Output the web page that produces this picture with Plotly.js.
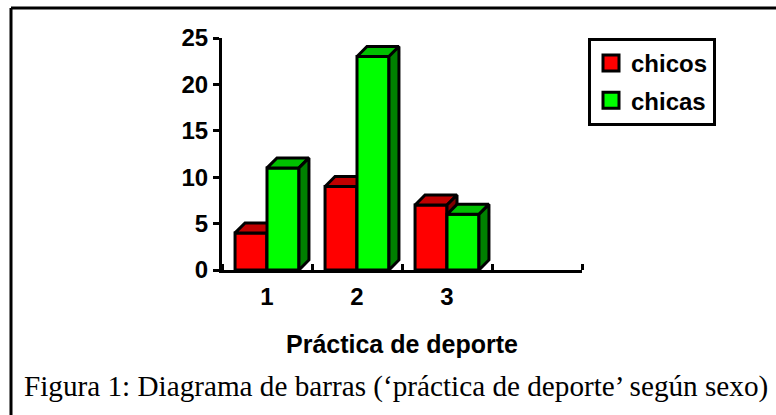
<!DOCTYPE html>
<html>
<head>
<meta charset="utf-8">
<script src="https://cdn.plot.ly/plotly-3.0.1.min.js"></script>
<style>
  html, body { margin: 0; padding: 0; background: #fff; }
  #chart { width: 776px; height: 415px; }
</style>
</head>
<body>
<div id="chart"></div>
<script>
// Sports practice by sex
const categories = [1, 2, 3];
const categoryLabels = ['1', '2', '3'];
const chicos = [4, 9, 7];
const chicas = [11, 23, 6];
const yTickValues = [0, 5, 10, 15, 20, 25];

// Plot area in pixels
const W = 776, H = 415;
const L = 222, R = 582, T = 38, B = 270;
const xRange = [0.5, 4.5];
const yRange = [0, 25];

// 3D extrusion of each bar (in axis units)
const pxPerX = (R - L) / (xRange[1] - xRange[0]);
const pxPerY = (B - T) / (yRange[1] - yRange[0]);
const DX = 10 / pxPerX;
const DY = 10 / pxPerY;
const BAR_W = 0.355;

const px = x => (x - L) / (R - L);
const py = y => (B - y) / (B - T);

const font = { family: 'Liberation Sans, Arial, sans-serif', color: '#000', weight: 'bold' };
const sized = s => Object.assign({}, font, { size: s });

// Build top and side faces for one series
function faces(values, offset) {
  const top = { x: [], y: [] };
  const side = { x: [], y: [] };
  values.forEach((h, i) => {
    const x0 = categories[i] + offset;
    const x1 = x0 + BAR_W;
    top.x.push(x0, x0 + DX, x1 + DX, x1, x0, null);
    top.y.push(h, h + DY, h + DY, h, h, null);
    side.x.push(x1, x1 + DX, x1 + DX, x1, x1, null);
    side.y.push(0, DY, h + DY, h, 0, null);
  });
  return { top, side };
}

function series(values, offset, front, topColor, sideColor, xa, ya) {
  const f = faces(values, offset);
  const outline = { color: '#000', width: 3 };
  return [
    {
      type: 'bar', x: categories, y: values, width: BAR_W, offset: offset,
      marker: { color: front, line: outline },
      xaxis: xa, yaxis: ya, showlegend: false, hoverinfo: 'y'
    },
    {
      type: 'scatter', mode: 'lines', x: f.top.x, y: f.top.y, fill: 'toself',
      fillcolor: topColor, line: outline, xaxis: xa, yaxis: ya,
      showlegend: false, hoverinfo: 'skip'
    },
    {
      type: 'scatter', mode: 'lines', x: f.side.x, y: f.side.y, fill: 'toself',
      fillcolor: sideColor, line: outline, xaxis: xa, yaxis: ya,
      showlegend: false, hoverinfo: 'skip'
    }
  ];
}

function legendEntry(name, color, group) {
  return {
    type: 'scatter', mode: 'markers', x: [null], y: [null], name: name,
    legendgroup: group,
    marker: { symbol: 'square', size: 16, color: color, line: { color: '#000', width: 3 } },
    xaxis: 'x', yaxis: 'y', hoverinfo: 'skip'
  };
}

const data = [
  ...series(chicos, -BAR_W, '#ff0000', '#c00000', '#800000', 'x', 'y'),
  ...series(chicas, 0, '#00ff00', '#00c000', '#008000', 'x2', 'y2'),
  legendEntry('chicos', '#ff0000', 'a'),
  legendEntry('chicas', '#00ff00', 'b')
];

const layout = {
  width: W, height: H,
  margin: { l: L, r: W - R, t: T, b: H - B, pad: 0 },
  paper_bgcolor: '#fff', plot_bgcolor: 'rgba(0,0,0,0)',
  font: font,
  showlegend: true,
  xaxis: {
    range: xRange, tickmode: 'array', tickvals: categories, ticktext: categoryLabels,
    ticks: '', ticklabelstandoff: 3,
    tickfont: sized(24),
    showline: true, linecolor: '#000', linewidth: 3,
    showgrid: false, zeroline: false, fixedrange: true,
    minor: { tickmode: 'array', tickvals: [0.5, 1.5, 2.5, 3.5, 4.5], ticks: 'inside',
             ticklen: 6, tickwidth: 3, tickcolor: '#000', showgrid: false },
    title: { text: 'Práctica de deporte', font: sized(25), standoff: 27 }
  },
  yaxis: {
    range: yRange, tickmode: 'array', tickvals: yTickValues,
    ticks: 'outside', ticklen: 6, tickwidth: 3, tickcolor: '#000',
    tickfont: sized(24),
    showline: true, linecolor: '#000', linewidth: 3,
    showgrid: false, zeroline: false, fixedrange: true
  },
  xaxis2: { overlaying: 'x', range: xRange, visible: false, fixedrange: true },
  yaxis2: { overlaying: 'y', range: yRange, visible: false, fixedrange: true },
  legend: {
    x: px(588), y: py(38), xanchor: 'left', yanchor: 'top',
    bordercolor: '#000', borderwidth: 3, bgcolor: '#fff',
    font: sized(24),
    traceorder: 'grouped', tracegroupgap: 3
  },
  shapes: [
    { type: 'line', xref: 'paper', yref: 'paper', x0: px(11), x1: px(W + 5), y0: py(8), y1: py(8),
      line: { color: '#000', width: 3 } },
    { type: 'line', xref: 'paper', yref: 'paper', x0: px(11), x1: px(11), y0: py(8), y1: py(H + 5),
      line: { color: '#000', width: 3 } }
  ],
  annotations: [
    { xref: 'paper', yref: 'paper', x: px(22), y: py(386), xanchor: 'left', yanchor: 'middle',
      showarrow: false,
      text: 'Figura 1: Diagrama de barras (‘práctica de deporte’ según sexo)',
      font: { family: 'Liberation Serif, Times New Roman, serif', size: 29.2, color: '#000', weight: 'normal' } }
  ]
};

Plotly.newPlot('chart', data, layout, { displayModeBar: false, staticPlot: true });
</script>
</body>
</html>
